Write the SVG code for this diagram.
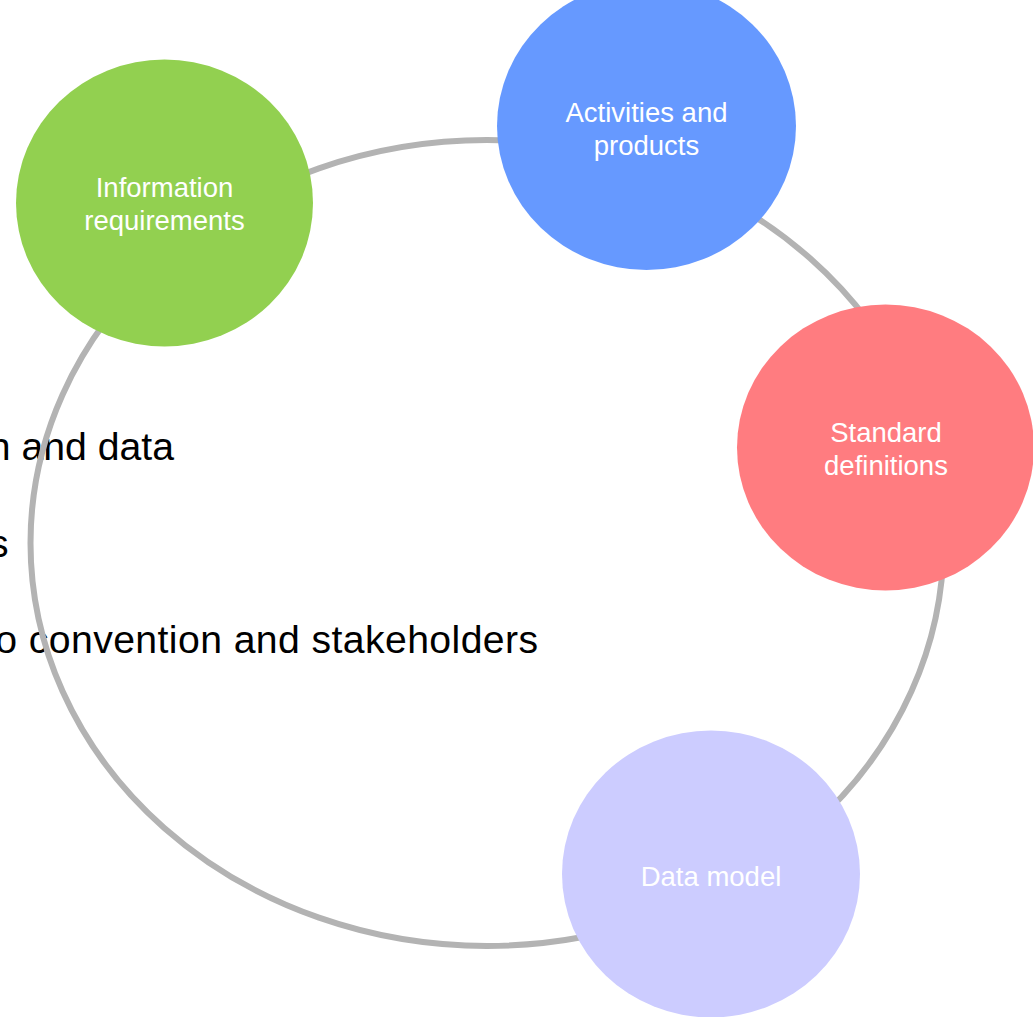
<svg xmlns="http://www.w3.org/2000/svg" width="1033" height="1017" viewBox="0 0 1033 1017">
  <style>
    .ring { fill: none; stroke: #b3b3b3; stroke-width: 6; }
    .node-label { font-family: "Liberation Sans", Arial, sans-serif; font-size: 27.5px; fill: #ffffff; text-anchor: middle; }
    .body { font-family: "Liberation Sans", Arial, sans-serif; font-size: 39.2px; fill: #000000; text-anchor: end; }
  </style>
  <rect x="0" y="0" width="1033" height="1017" fill="#ffffff"/>
  <g id="body-text">
    <text class="body" x="174" y="460">n and data</text>
    <text class="body" x="8.5" y="556.5">s</text>
    <text class="body" x="538.5" y="653" letter-spacing="0.4">o convention and stakeholders</text>
  </g>
  <g id="connectors">
    <ellipse class="ring" cx="487" cy="543" rx="456.5" ry="403"/>
  </g>
  <g id="node-information-requirements">
    <ellipse cx="164.5" cy="203" rx="148.5" ry="143.5" fill="#92d050"/>
    <text class="node-label" x="164.5" y="197">Information</text>
    <text class="node-label" x="164.5" y="230">requirements</text>
  </g>
  <g id="node-activities-and-products">
    <ellipse cx="646.5" cy="126" rx="149.5" ry="144" fill="#6699ff"/>
    <text class="node-label" x="646.5" y="121.5">Activities and</text>
    <text class="node-label" x="646.5" y="154.5">products</text>
  </g>
  <g id="node-standard-definitions">
    <ellipse cx="885.5" cy="447.5" rx="148.5" ry="143" fill="#ff7c80"/>
    <text class="node-label" x="886" y="442">Standard</text>
    <text class="node-label" x="886" y="474.5">definitions</text>
  </g>
  <g id="node-data-model">
    <ellipse cx="711" cy="874" rx="149" ry="143.5" fill="#ccccff"/>
    <text class="node-label" x="711" y="886">Data model</text>
  </g>
</svg>
